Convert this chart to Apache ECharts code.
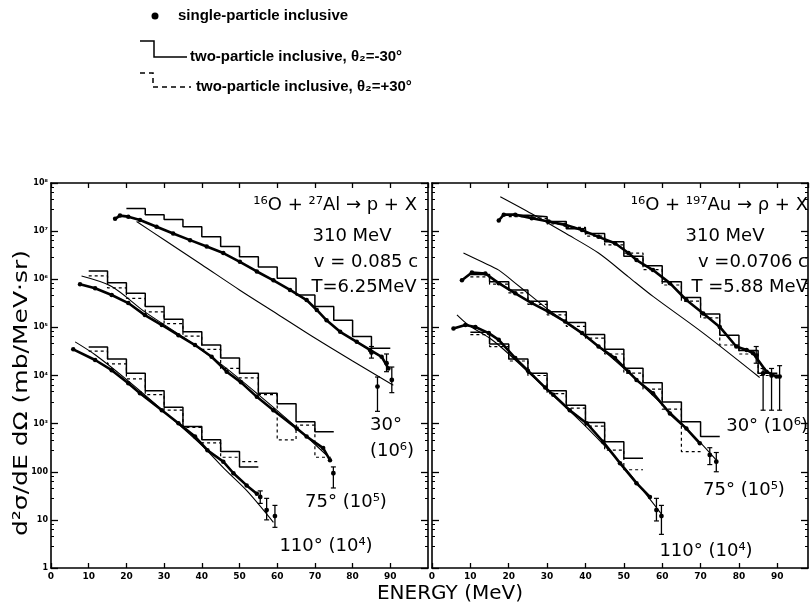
<!DOCTYPE html>
<html><head><meta charset="utf-8">
<script src="https://cdn.jsdelivr.net/npm/echarts@6/dist/echarts.min.js"></script>
<style>html,body{margin:0;padding:0;background:#fff}#c{width:811px;height:605px}</style>
</head><body><div id="c"></div>
<script>
// ---------- tick labels ----------
const yTickLabels = ['1','10','100','10³','10⁴','10⁵','10⁶','10⁷','10⁸'];

// ---------- histogram bin edges (MeV) ----------
const bins20to90 = [20,25,30,35,40,45,50,55,60,65,70,75,80,85,90];
const bins10to75 = [10,15,20,25,30,35,40,45,50,55,60,65,70,75];
const bins10to70 = [10,15,20,25,30,35,40,45,50,55,60,65,70];
const bins10to55 = [10,15,20,25,30,35,40,45,50,55];

// ================= LEFT PANEL: 16O + 27Al =================
// 30 deg (x10^6)
const dotsL30 = [[17.0,1.8e7],[18.3,2.1e7],[20.5,2.0e7],[23.6,1.7e7],[28.0,1.23e7],[32.4,8.9e6],[36.9,6.5e6],[41.3,4.8e6],[45.7,3.5e6],[50.1,2.3e6],[54.6,1.45e6],[59.0,9.5e5],[63.4,6.0e5],[67.8,3.7e5],[70.5,2.3e5],[73.1,1.4e5],[76.7,8.1e4],[81.1,5.0e4],[84.6,3.4e4],[87.7,2.45e4],[89.5,1.4e4]];
const errL30 = [[85.0,3.0e4,2.3e4,4.0e4],[86.6,5.9e3,1.8e3,9.3e3],[89.0,1.8e4,1.2e4,2.8e4],[90.4,8.1e3,4.4e3,1.5e4]];
const theoryL30 = [[22.7,1.58e7],[30,6.6e6],[40,2.0e6],[50,6.0e5],[60,1.9e5],[70,6.0e4],[80,2.0e4],[90.8,6.3e3]];
const solidL30 = [2.95e7,2.2e7,1.74e7,1.23e7,7.6e6,4.8e6,2.95e6,1.8e6,1.05e6,4.7e5,2.7e5,1.4e5,6.5e4,3.7e4];
// 75 deg (x10^5)
const dotsL75 = [[7.7,7.9e5],[11.7,6.5e5],[16.1,4.7e5],[20.5,3.2e5],[24.9,1.8e5],[29.4,1.12e5],[33.8,6.9e4],[38.2,4.3e4],[42.6,2.45e4],[46.6,1.2e4],[50.4,7.2e3],[54.6,3.6e3],[59.0,1.9e3],[65.2,790],[67.8,540],[72.2,310],[74.0,174]];
const errL75 = [[74.9,93,46,126]];
const theoryL75 = [[8.1,1.17e6],[16.1,7.1e5],[24.9,2.1e5],[35,6.3e4],[45,1.74e4],[55,4.0e3],[65,850],[73,224]];
const solidL75 = [1.48e6,8.5e5,5.1e5,2.7e5,1.48e5,8.1e4,4.3e4,2.3e4,1.12e4,4.3e3,2.6e3,1.1e3,680];
const dottedL75 = [1.17e6,6.6e5,4.0e5,2.1e5,1.2e5,6.6e4,3.5e4,1.4e4,8.9e3,4.0e3,460,930,200];
// 110 deg (x10^4)
const dotsL110 = [[5.9,3.5e4],[11.7,2.1e4],[16.1,1.29e4],[20.5,6.9e3],[23.6,4.3e3],[29.4,1.9e3],[33.8,1.02e3],[38.2,540],[41.5,280],[45.7,162],[48.4,93],[51.9,52],[54.6,35]];
const errL110 = [[55.5,30,22,40],[57.2,16,10,28],[59.4,12,7,20]];
const theoryL110 = [[6.4,5.0e4],[11.7,2.7e4],[20,8.3e3],[30,1.78e3],[40,355],[46,115],[52,40],[59,8.9]];
const solidL110 = [3.9e4,2.2e4,1.12e4,4.8e3,2.2e3,870,460,263,126];
const dottedL110 = [3.2e4,1.74e4,8.5e3,4.0e3,1.9e3,830,400,200,162];

// ================= RIGHT PANEL: 16O + 197Au =================
const dotsR30 = [[17.4,1.66e7],[18.7,2.2e7],[21.7,2.2e7],[26.0,1.86e7],[30.4,1.58e7],[34.7,1.35e7],[39.1,1.05e7],[43.4,7.6e6],[47.7,5.6e6],[51.2,3.5e6],[53.3,2.5e6],[57.6,1.55e6],[62.0,8.3e5],[66.3,3.7e5],[70.7,1.95e5],[75.0,1.02e5],[79.3,4.0e4],[82.0,3.4e4],[83.7,2.9e4],[87.2,1.2e4],[89.8,9.5e3]];
const errR30 = [[84.5,2.6e4,1.8e4,4.0e4],[86.3,1.1e4,1.9e3,1.4e4],[88.5,1.0e4,1.9e3,1.4e4],[90.6,9.5e3,1.9e3,1.6e4]];
const theoryR30 = [[17.8,5.2e7],[26,2.3e7],[34.7,9.1e6],[43.4,3.5e6],[51.2,1.12e6],[57.6,4.4e5],[70.7,7.6e4],[85.4,9.1e3]];
const solidR30 = [2.14e7,2.0e7,1.58e7,1.12e7,8.9e6,6.0e6,3.0e6,1.9e6,8.9e5,4.2e5,1.9e5,6.9e4,3.3e4,1.12e4];
const dottedR30 = [2.0e7,1.82e7,1.41e7,1.2e7,7.9e6,5.2e6,3.5e6,1.58e6,7.6e5,3.5e5,1.58e5,4.3e4,2.8e4,1.0e4];

const dotsR75 = [[7.8,9.5e5],[10.4,1.38e6],[13.9,1.32e6],[17.4,8.3e5],[21.7,5.1e5],[26.0,3.2e5],[30.4,2.1e5],[34.7,1.32e5],[39.1,7.6e4],[43.4,4.0e4],[47.7,2.3e4],[51.2,1.2e4],[53.3,8.1e3],[57.6,4.3e3],[62.0,1.62e3],[66.3,790],[69.8,390]];
const errR75 = [[72.4,224,141,316],[74.1,162,100,251]];
const theoryR75 = [[8.2,3.5e6],[13,2.3e6],[17.4,1.55e6],[21.7,8.3e5],[26,4.4e5],[30.4,2.3e5],[40,6.6e4],[50,1.41e4],[60,2.5e3],[70,400],[74,178]];
const solidR75 = [1.26e6,8.9e5,6.0e5,3.5e5,2.1e5,1.26e5,7.1e4,3.5e4,1.41e4,7.1e3,2.8e3,1.1e3,540];
const dottedR75 = [1.12e6,7.9e5,5.2e5,3.0e5,1.82e5,1.05e5,6.0e4,2.8e4,1.12e4,5.2e3,2.0e3,263];

const dotsR110 = [[5.6,9.5e4],[8.7,1.12e5],[11.3,1.02e5],[14.8,7.6e4],[17.4,5.5e4],[21.7,2.3e4],[25.0,1.26e4],[29.5,5.6e3],[31.6,4.0e3],[35.9,1.9e3],[40.3,1.02e3],[44.6,420],[49.0,151],[53.3,58],[56.8,30]];
const errR110 = [[58.5,16,9.5,28],[59.8,12,5,20]];
const theoryR110 = [[6.5,1.82e5],[9.5,1.12e5],[15,6.0e4],[20,2.8e4],[30,5.0e3],[40,890],[50,126],[60,12.6]];
const solidR110 = [7.9e4,4.5e4,2.2e4,1.12e4,4.8e3,2.4e3,1.05e3,420,190];
const dottedR110 = [7.1e4,4.0e4,2.0e4,1.0e4,4.2e3,2.1e3,890,282,110];

// ---------- helpers ----------
const BLK = '#000';
function histData(edges, vals){
  const d = vals.map((v,i)=>[edges[i], v]);
  d.push([edges[vals.length], vals[vals.length-1]]);
  return d;
}
function dotsS(data, ax){
  return {type:'line', xAxisIndex:ax, yAxisIndex:ax, data, symbol:'circle', symbolSize:4.5, showSymbol:true,
    lineStyle:{color:BLK, width:2.6}, itemStyle:{color:BLK}, z:5};
}
function theoryS(data, ax){
  return {type:'line', xAxisIndex:ax, yAxisIndex:ax, data, smooth:0.3, showSymbol:false,
    lineStyle:{color:BLK, width:1.1}, z:3};
}
function histS(edges, vals, ax, dotted){
  return {type:'line', step:'end', xAxisIndex:ax, yAxisIndex:ax, data:histData(edges, vals), showSymbol:false,
    lineStyle:{color:BLK, width: dotted?1.2:1.5, type: dotted?[3,3]:'solid'}, z:4};
}
function errS(data, ax){
  return {type:'custom', xAxisIndex:ax, yAxisIndex:ax, data, z:6, encode:{x:0, y:1},
    renderItem:(params, api)=>{
      const x=api.value(0), y=api.value(1), lo=api.value(2), hi=api.value(3);
      const pc=api.coord([x,y]), pl=api.coord([x,lo]), ph=api.coord([x,hi]);
      return {type:'group', children:[
        {type:'line', shape:{x1:pl[0],y1:pl[1],x2:ph[0],y2:ph[1]}, style:{stroke:BLK,lineWidth:1.3}},
        {type:'line', shape:{x1:pl[0]-2.5,y1:pl[1],x2:pl[0]+2.5,y2:pl[1]}, style:{stroke:BLK,lineWidth:1.2}},
        {type:'line', shape:{x1:ph[0]-2.5,y1:ph[1],x2:ph[0]+2.5,y2:ph[1]}, style:{stroke:BLK,lineWidth:1.2}},
        {type:'circle', shape:{cx:pc[0],cy:pc[1],r:2.4}, style:{fill:BLK}}
      ]};
    }};
}
function xAx(grid, pos, labels, max){
  return {type:'value', gridIndex:grid, position:pos, min:0, max:max, interval:10,
    axisLine:{show:true, onZero:false, lineStyle:{color:BLK, width:1.6}},
    axisTick:{show:true, inside:true, length:5, lineStyle:{color:BLK, width:1.3}},
    axisLabel:{show:labels, color:BLK, fontSize:9, fontWeight:'bold', fontFamily:'DejaVu Sans', margin:4, showMaxLabel:false},
    splitLine:{show:false}};
}
function yAx(grid, pos, labels){
  return {type:'log', logBase:10, gridIndex:grid, position:pos, min:1, max:1e8,
    axisLine:{show:true, onZero:false, lineStyle:{color:BLK, width:1.6}},
    axisTick:{show:true, inside:true, length:7, lineStyle:{color:BLK, width:1.3}},
    minorTick:{show:true, splitNumber:5, length:3, lineStyle:{color:BLK, width:1}},
    axisLabel:{show:labels, color:BLK, fontSize:8, fontWeight:'bold', fontFamily:'DejaVu Sans', margin:3,
      formatter:(v)=>yTickLabels[Math.round(Math.log10(v))]},
    splitLine:{show:false}, minorSplitLine:{show:false}};
}

const F = '"DejaVu Sans"';
const LF = 'bold 15px "Liberation Sans", "DejaVu Sans"';
function txt(x, y, text, align, size){
  return {type:'text', x, y, style:{text, fill:BLK, font:(size||18)+'px '+F, align:align||'left', verticalAlign:'middle'}};
}

const option = {
  animation:false,
  backgroundColor:'#fff',
  grid:[
    {left:51, top:183, width:377, height:385},
    {left:432, top:183, width:376, height:385}
  ],
  xAxis:[xAx(0,'bottom',true,100), xAx(0,'top',false,100), xAx(1,'bottom',true,98), xAx(1,'top',false,98)],
  yAxis:[yAx(0,'left',true), yAx(0,'right',false), yAx(1,'left',false), yAx(1,'right',false)],
  series:[
    histS(bins20to90, solidL30, 0, false), theoryS(theoryL30, 0), dotsS(dotsL30, 0), errS(errL30, 0),
    histS(bins10to75, solidL75, 0, false), histS(bins10to75, dottedL75, 0, true), theoryS(theoryL75, 0), dotsS(dotsL75, 0), errS(errL75, 0),
    histS(bins10to55, solidL110, 0, false), histS(bins10to55, dottedL110, 0, true), theoryS(theoryL110, 0), dotsS(dotsL110, 0), errS(errL110, 0),
    histS(bins20to90, solidR30, 2, false), histS(bins20to90, dottedR30, 2, true), theoryS(theoryR30, 2), dotsS(dotsR30, 2), errS(errR30, 2),
    histS(bins10to75, solidR75, 2, false), histS(bins10to70, dottedR75, 2, true), theoryS(theoryR75, 2), dotsS(dotsR75, 2), errS(errR75, 2),
    histS(bins10to55, solidR110, 2, false), histS(bins10to55, dottedR110, 2, true), theoryS(theoryR110, 2), dotsS(dotsR110, 2), errS(errR110, 2)
  ],
  graphic:[
    // legend
    {type:'circle', shape:{cx:155, cy:16, r:3.5}, style:{fill:BLK}},
    {type:'text', x:178, y:16, style:{text:'single-particle inclusive', fill:BLK, font:LF, verticalAlign:'middle'}},
    {type:'polyline', shape:{points:[[140,41],[154,41],[154,57],[187,57]]}, style:{stroke:BLK, lineWidth:1.5, fill:'none'}},
    {type:'text', x:190, y:57, style:{text:'two-particle inclusive, θ₂=-30°', fill:BLK, font:LF, verticalAlign:'middle'}},
    {type:'polyline', shape:{points:[[140,73],[153,73],[153,87],[191,87]]}, style:{stroke:BLK, lineWidth:1.5, lineDash:[5,4], fill:'none'}},
    {type:'text', x:196, y:87, style:{text:'two-particle inclusive, θ₂=+30°', fill:BLK, font:LF, verticalAlign:'middle'}},
    // axis titles
    {type:'text', x:22, y:393, rotation:Math.PI/2, scaleX:1.25,
      style:{text:'d²σ/dE dΩ (mb/MeV·sr)', fill:BLK, font:'20px '+F, align:'center', verticalAlign:'middle'}},
    {type:'text', x:450, y:594, style:{text:'ENERGY (MeV)', fill:BLK, font:'20px '+F, align:'center', verticalAlign:'middle'}},
    // left panel annotations
    txt(417, 205, '¹⁶O + ²⁷Al → p + X', 'right'),
    txt(352, 236, '310 MeV', 'center'),
    txt(366, 262, 'v = 0.085 c', 'center'),
    txt(364, 287, 'T=6.25MeV', 'center'),
    txt(386, 425, '30°', 'center'),
    txt(392, 451, '(10⁶)', 'center'),
    txt(346, 502, '75° (10⁵)', 'center'),
    txt(326, 546, '110° (10⁴)', 'center'),
    // right panel annotations
    txt(808, 205, '¹⁶O + ¹⁹⁷Au → ρ + X', 'right'),
    txt(725, 236, '310 MeV', 'center'),
    txt(808, 262, 'v =0.0706 c', 'right'),
    txt(808, 287, 'T =5.88 MeV', 'right'),
    txt(808, 426, '30° (10⁶)', 'right'),
    txt(744, 490, '75° (10⁵)', 'center'),
    txt(706, 551, '110° (10⁴)', 'center')
  ]
};
const chart = echarts.init(document.getElementById('c'), null, {renderer:'canvas'});
chart.setOption(option);
</script>
</body></html>
